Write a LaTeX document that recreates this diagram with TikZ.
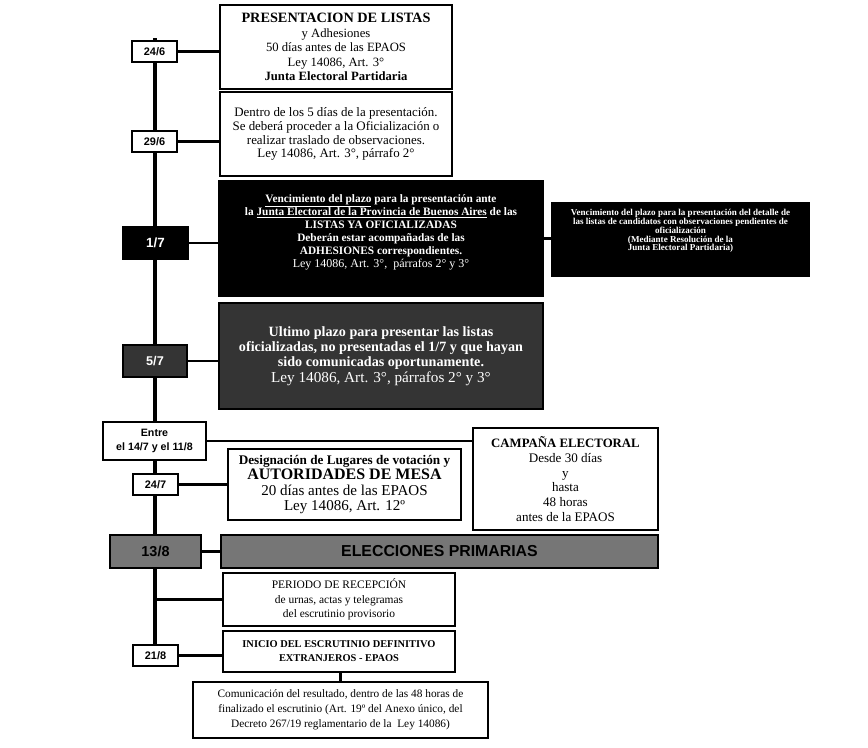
\documentclass[tikz,border=0pt]{standalone}
\usepackage{fontspec}
\setmainfont{Liberation Serif}
\setsansfont{Liberation Sans}
\usetikzlibrary{backgrounds}
\definecolor{dgray}{RGB}{52,52,52}
\definecolor{mgray}{RGB}{118,118,118}
\newcommand{\myfs}[2]{\fontsize{#1}{#2}\selectfont}
\begin{document}
\begin{tikzpicture}[x=0.75pt,y=-0.75pt,
  wbox/.style={draw=black, line width=1.1pt, fill=white, inner sep=0pt, align=center},
  kbox/.style={wbox, fill=black, text=white},
  gbox/.style={wbox, fill=dgray, text=white},
  mbox/.style={wbox, fill=mgray},
  datefont/.style={font=\sffamily\bfseries\myfs{8.2}{10}},
  smalldate/.style={wbox, datefont, minimum width=33.75pt, minimum height=15.75pt},
  tline/.style={line width=2.4pt},
  conn/.style={line width=1.6pt}]
\useasboundingbox (0,0) rectangle (868,747);
\coordinate (top) at (155,38);

% main boxes
\node[wbox, minimum width=174pt, minimum height=63pt, font=\myfs{9.5}{10.8}] (b1) at (336,47)
 {{\bfseries\myfs{10.7}{10.8}PRESENTACION DE LISTAS}\\y Adhesiones\\50 días antes de las EPAOS\\Ley 14086, Art. 3°\\{\bfseries Junta Electoral Partidaria}};
\node[wbox, minimum width=174pt, minimum height=63pt, font=\myfs{9.7}{10.4}] (b2) at (336,134)
 {Dentro de los 5 días de la presentación.\\Se deberá proceder a la Oficialización o\\realizar traslado de observaciones.\\Ley 14086, Art. 3°, párrafo 2°};
\node[kbox, minimum width=243pt, minimum height=86.25pt] (b3) at (381,238.5) {};
\node[text=white, align=center, inner sep=0pt, font=\bfseries\myfs{8.5}{9.75}] (b3t) at (381,232)
 {\underline{Vencimiento del plazo} para la presentación ante\\la \underline{Junta Electoral de la Provincia de Buenos Aires} de las\\LISTAS YA OFICIALIZADAS\\Deberán estar acompañadas de las\\ADHESIONES correspondientes.\\{\mdseries\myfs{9}{9.75}Ley 14086, Art. 3°,\ \ párrafos 2° y 3°}};
\node[kbox, minimum width=192.75pt, minimum height=54.75pt] (rb) at (680.5,239.5) {};
\node[text=white, align=center, inner sep=0pt, font=\bfseries\myfs{6.8}{6.2}] (rbt) at (680.5,231)
 {Vencimiento del plazo para la presentación del detalle de\\las listas de candidatos con observaciones pendientes de\\oficialización\\(Mediante Resolución de la\\Junta Electoral Partidaria)};
\node[gbox, minimum width=243pt, minimum height=79.5pt, font=\bfseries\myfs{10.6}{11.5}] (b4) at (381,356)
 {Ultimo plazo para presentar las listas\\oficializadas, no presentadas el 1/7 y que hayan\\sido comunicadas oportunamente.\\{\mdseries\myfs{11.4}{11.5}Ley 14086, Art. 3°, párrafos 2° y 3°}};
\node[wbox, minimum width=138.75pt, minimum height=76.5pt, font=\myfs{9.8}{11}] (cp) at (565.5,479)
 {{\bfseries\myfs{9.6}{11}CAMPAÑA ELECTORAL}\\Desde 30 días\\y\\hasta\\48 horas\\antes de la EPAOS};
\node[wbox, minimum width=174.75pt, minimum height=53.25pt, font=\myfs{11.3}{11.6}] (dg) at (344.5,484.5)
 {{\bfseries\myfs{9.9}{11.6}Designación de Lugares de votación y}\\{\bfseries\myfs{12}{11.6}AUTORIDADES DE MESA}\\20 días antes de las EPAOS\\Ley 14086, Art. 12º};
\node[mbox, minimum width=327.75pt, minimum height=24.75pt, font=\sffamily\bfseries\myfs{11.9}{13}] (el) at (439.5,551.5) {ELECCIONES PRIMARIAS};
\node[wbox, minimum width=174pt, minimum height=39.75pt, font=\myfs{8.6}{10.8}] (pr) at (339,599.5)
 {PERIODO DE RECEPCIÓN\\de urnas, actas y telegramas\\del escrutinio provisorio};
\node[wbox, minimum width=174pt, minimum height=30.75pt, font=\bfseries\myfs{7.8}{10.5}] (in) at (339,651.5)
 {INICIO DEL ESCRUTINIO DEFINITIVO\\EXTRANJEROS - EPAOS};
\node[wbox, minimum width=221.25pt, minimum height=42pt, font=\myfs{8.5}{11.2}] (cm) at (340.5,710)
 {Comunicación del resultado, dentro de las 48 horas de\\finalizado el escrutinio (Art. 19º del Anexo único, del\\Decreto 267/19 reglamentario de la\ \ Ley 14086)};

% date boxes
\node[smalldate] (d1) at (154.5,51.5) {24/6};
\node[smalldate] (d2) at (154.5,141.5) {29/6};
\node[kbox, minimum width=48.75pt, minimum height=24pt, font=\sffamily\bfseries\myfs{10}{12}] (d3) at (155.5,243) {1/7};
\node[gbox, minimum width=48pt, minimum height=24pt, font=\sffamily\bfseries\myfs{9.5}{12}] (d4) at (155,361) {5/7};
\node[wbox, minimum width=77.25pt, minimum height=28.5pt, font=\sffamily\bfseries\myfs{8}{10.5}] (d5) at (154.5,441) {Entre\\el 14/7 y el 11/8};
\node[smalldate] (d6) at (155.5,484.5) {24/7};
\node[mbox, minimum width=68.25pt, minimum height=24.75pt, font=\sffamily\bfseries\myfs{10.8}{12}] (d7) at (155.5,551.5) {13/8};
\node[smalldate] (d8) at (155.5,655.5) {21/8};

% connectors
\draw[conn] (d1.east) -- (d1.east -| b1.west);
\draw[conn] (d2.east) -- (d2.east -| b2.west);
\draw[conn] (d3.east) -- (d3.east -| b3.west);
\draw[conn] (b3.east) -- (b3.east -| rb.west);
\draw[conn] (d4.east) -- (d4.east -| b4.west);
\draw[conn] (d5.east) -- (d5.east -| cp.west);
\draw[conn] (d6.east) -- (d6.east -| dg.west);
\draw[conn] (d7.east) -- (d7.east -| el.west);
\draw[conn] (pr.west -| top) -- (pr.west);
\draw[conn] (d8.east) -- (d8.east -| in.west);
\draw[tline] (cm.north) -- (cm.north |- in.south);

\begin{scope}[on background layer]
\fill[white] (0,0) rectangle (868,747);
\draw[tline] (top) -- (top |- d8.north);
\end{scope}
\end{tikzpicture}
\end{document}
